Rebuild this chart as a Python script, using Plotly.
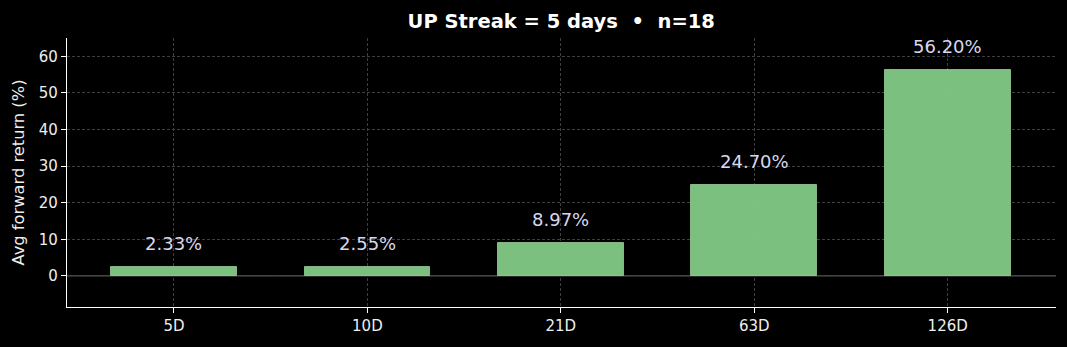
import plotly.graph_objects as go

categories = ["5D", "10D", "21D", "63D", "126D"]
values = [2.33, 2.55, 8.97, 24.70, 56.20]
labels = ["2.33%", "2.55%", "8.97%", "24.70%", "56.20%"]
title = "UP Streak = 5 days  •  n=18"

fig = go.Figure()
fig.add_trace(go.Bar(
    x=list(range(len(categories))), y=values, width=0.65,
    marker=dict(color="#81c784", line=dict(width=1, color="rgba(170,225,170,0.7)")),
    opacity=0.97,
    hoverinfo="skip",
))
for i, (v, t) in enumerate(zip(values, labels)):
    fig.add_annotation(x=i, y=v, text=t, showarrow=False, yanchor="bottom", yshift=11,
                       font=dict(family="DejaVu Sans", size=18, color="#d8d8ee"))
fig.add_shape(type="line", xref="paper", x0=0, x1=1, yref="y", y0=0, y1=0,
              line=dict(color="#707070", width=1), layer="below")

grid = dict(showgrid=True, gridcolor="#404040", griddash="3px,2px", gridwidth=0.8, zeroline=False)
fig.update_layout(
    width=1067, height=347,
    margin=dict(l=67, r=11, t=38, b=40),
    paper_bgcolor="black", plot_bgcolor="black",
    font=dict(family="DejaVu Sans", color="#eeeeee", size=15),
    title=dict(text="<b>" + title + "</b>", x=0.526, xanchor="center", y=0.94, yanchor="middle",
               font=dict(size=19.5, color="white")),
    showlegend=False,
    bargap=0,
)
fig.update_xaxes(
    range=[-0.553, 4.56], tickmode="array", tickvals=list(range(len(categories))),
    ticktext=categories, showline=True, linecolor="white", linewidth=1.2,
    ticks="outside", ticklen=5, tickcolor="white", tickfont=dict(size=15), **grid,
)
fig.update_yaxes(
    range=[-8.5, 65.0], tickvals=[0, 10, 20, 30, 40, 50, 60],
    showline=True, linecolor="white", linewidth=1.2,
    ticks="outside", ticklen=5, tickcolor="white", tickfont=dict(size=15), **grid,
    title=dict(text="Avg forward return (%)", font=dict(size=16.3), standoff=10),
)
fig.write_html("out.html")
